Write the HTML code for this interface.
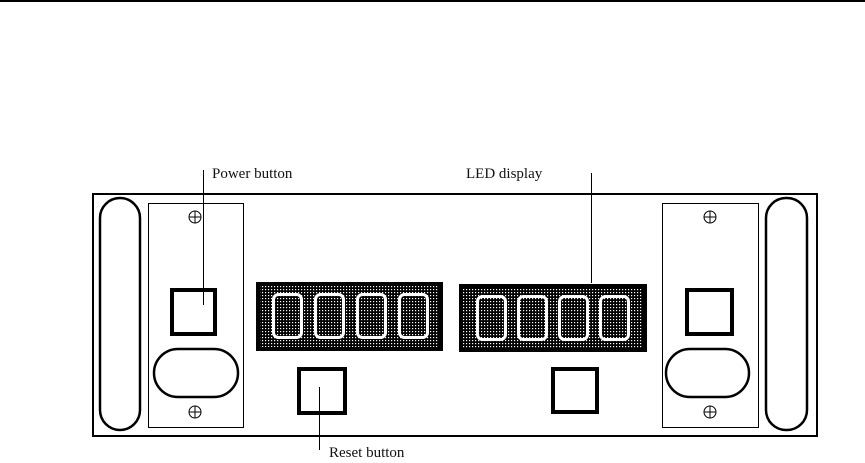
<!DOCTYPE html>
<html><head><meta charset="utf-8"><style>
html,body{margin:0;padding:0;background:#fff;}
svg{display:block;}
text{font-family:"Liberation Serif",serif;font-size:15px;fill:#111;}
</style></head><body>
<svg width="865" height="463" viewBox="0 0 865 463" xmlns="http://www.w3.org/2000/svg">
<defs>
<pattern id="dots" width="3" height="3" patternUnits="userSpaceOnUse">
<rect width="3" height="3" fill="#000"/><rect x="1" y="1" width="1.2" height="1.2" fill="#fff"/>
</pattern>
</defs>
<rect x="0" y="0" width="865" height="2" fill="#000"/>
<!-- outer -->
<rect x="93" y="194" width="724" height="242" fill="none" stroke="#000" stroke-width="2"/>
<!-- handles -->
<rect x="100" y="198" width="40" height="232" rx="20" fill="none" stroke="#000" stroke-width="2.5"/>
<rect x="766" y="198" width="41" height="232" rx="20" fill="none" stroke="#000" stroke-width="2.5"/>
<!-- panels -->
<rect x="148.5" y="203.5" width="95" height="224" fill="none" stroke="#000" stroke-width="1"/>
<rect x="662.5" y="203.5" width="96" height="224" fill="none" stroke="#000" stroke-width="1"/>
<!-- screws -->
<g fill="none" stroke="#000" stroke-width="1">
<circle cx="195" cy="217" r="6"/><path d="M189 217h12M195 211v12"/>
<circle cx="195" cy="412" r="6"/><path d="M189 412h12M195 406v12"/>
<circle cx="710" cy="217" r="6"/><path d="M704 217h12M710 211v12"/>
<circle cx="710" cy="412" r="6"/><path d="M704 412h12M710 406v12"/>
</g>
<!-- buttons -->
<g fill="none" stroke="#000" stroke-width="4">
<rect x="172" y="290" width="43" height="44"/>
<rect x="299" y="369" width="46" height="44"/>
<rect x="553" y="369" width="44" height="43"/>
<rect x="687" y="290" width="45" height="44"/>
</g>
<!-- ovals -->
<rect x="154" y="349" width="84" height="48" rx="24" fill="none" stroke="#000" stroke-width="2.5"/>
<rect x="666" y="349" width="83" height="48" rx="24" fill="none" stroke="#000" stroke-width="2.5"/>
<!-- displays -->
<rect x="256" y="282" width="187" height="69" fill="#000"/>
<rect x="260" y="286" width="179" height="61" fill="url(#dots)"/>
<rect x="459" y="284" width="188" height="68" fill="#000"/>
<rect x="463" y="288" width="180" height="60" fill="url(#dots)"/>
<g fill="url(#dots)" stroke="#fff" stroke-width="3">
<rect x="273.5" y="294.5" width="28" height="43" rx="5"/>
<rect x="315.5" y="294.5" width="28" height="43" rx="5"/>
<rect x="357.5" y="294.5" width="28" height="43" rx="5"/>
<rect x="399.5" y="294.5" width="28" height="43" rx="5"/>
<rect x="477.5" y="296.5" width="28" height="43" rx="5"/>
<rect x="518.5" y="296.5" width="28" height="43" rx="5"/>
<rect x="559.5" y="296.5" width="28" height="43" rx="5"/>
<rect x="600.5" y="296.5" width="28" height="43" rx="5"/>
</g>
<!-- leaders -->
<g stroke="#000" stroke-width="1">
<line x1="203.5" y1="170" x2="203.5" y2="305"/>
<line x1="319.5" y1="387" x2="319.5" y2="450"/>
<line x1="591.5" y1="173" x2="591.5" y2="283"/>
</g>
<text x="212" y="178">Power button</text>
<text x="466" y="178">LED display</text>
<text x="329" y="457">Reset button</text>
</svg>
</body></html>
